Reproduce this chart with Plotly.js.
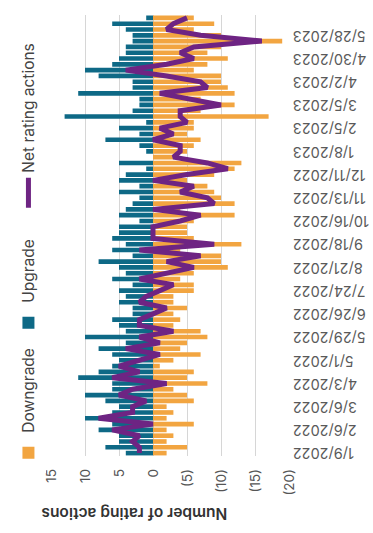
<!DOCTYPE html>
<html><head><meta charset="utf-8">
<script src="https://cdn.plot.ly/plotly-3.0.1.min.js"></script>
<style>
html,body{margin:0;padding:0;background:#fff;overflow:hidden;width:373px;height:533px;}
#wrap{position:absolute;left:0;top:0;width:533px;height:373px;transform-origin:0 0;transform:translateY(533px) rotate(-90deg);}
#chart{width:533px;height:373px;}
</style></head><body>
<div id="wrap"><div id="chart"></div></div>
<script>
const weeks = [
 "1/9/2022","1/16/2022","1/23/2022","1/30/2022","2/6/2022","2/13/2022","2/20/2022","2/27/2022",
 "3/6/2022","3/13/2022","3/20/2022","3/27/2022","4/3/2022","4/10/2022","4/17/2022","4/24/2022",
 "5/1/2022","5/8/2022","5/15/2022","5/22/2022","5/29/2022","6/5/2022","6/12/2022","6/19/2022",
 "6/26/2022","7/3/2022","7/10/2022","7/17/2022","7/24/2022","7/31/2022","8/7/2022","8/14/2022",
 "8/21/2022","8/28/2022","9/4/2022","9/11/2022","9/18/2022","9/25/2022","10/2/2022","10/9/2022",
 "10/16/2022","10/23/2022","10/30/2022","11/6/2022","11/13/2022","11/20/2022","11/27/2022","12/4/2022",
 "12/11/2022","12/18/2022","12/25/2022","1/1/2023","1/8/2023","1/15/2023","1/22/2023","1/29/2023",
 "2/5/2023","2/12/2023","2/19/2023","2/26/2023","3/5/2023","3/12/2023","3/19/2023","3/26/2023",
 "4/2/2023","4/9/2023","4/16/2023","4/23/2023","4/30/2023","5/7/2023","5/14/2023","5/21/2023",
 "5/28/2023","6/4/2023","6/11/2023","6/18/2023"
];
const upgrades = [
 4,7,5,5,8,6,10,6,5,7,10,6,
 6,11,8,6,5,6,8,4,10,4,5,6,3,
 3,5,4,5,3,6,4,5,8,3,6,4,6,
 5,5,2,5,4,3,2,5,2,5,4,1,5,
 0,1,2,7,2,5,1,13,3,2,2,11,3,
 3,8,10,6,5,4,4,3,3,4,6,1
];
const downgrades = [
 -2,-5,-2,-3,-2,-6,-2,-3,-2,-6,-5,-3,
 -8,-5,-6,-1,-3,-7,-4,-5,-8,-7,-3,-4,-3,
 -5,-3,-3,-6,-6,-4,-6,-11,-10,-10,-4,-13,-6,
 -5,-5,-6,-12,-4,-12,-10,-9,-8,-5,-9,-12,-13,
 -3,-5,-6,-7,-5,-6,-6,-17,-7,-12,-7,-12,-11,
 -10,-10,-6,-8,-11,-8,-10,-19,-10,-6,-9,-6
];
const netActions = [
 2,2,3,2,6,0,8,3,3,1,5,3,
 -2,6,2,5,2,-1,4,-1,2,-3,2,2,0,
 -2,2,1,-1,-3,2,-2,-6,-2,-7,2,-9,0,
 0,0,-4,-7,0,-9,-8,-4,-6,0,-5,-11,-8,
 -3,-4,-4,0,-3,-1,-5,-4,-4,-10,-5,-1,-8,
 -7,-2,4,-2,-6,-4,-6,-16,-7,-2,-3,-5
];
const xTickLabels = ["1/9/2022","2/6/2022","3/6/2022","4/3/2022","5/1/2022","5/29/2022","6/26/2022",
 "7/24/2022","8/21/2022","9/18/2022","10/16/2022","11/13/2022","12/11/2022","1/8/2023","2/5/2023",
 "3/5/2023","4/2/2023","4/30/2023","5/28/2023"];
const yTickVals = [-20,-15,-10,-5,0,5,10,15];
const yTickText = ["(20)","(15)","(10)","(5)","0","5","10","15"];

const FONT = "Inter, 'Noto Sans', Roboto, sans-serif";
const traces = [
 {type:'bar', name:'Downgrade', x:weeks, y:downgrades, marker:{color:'#F2A541'}, hoverinfo:'skip', legendwidth:85},
 {type:'bar', name:'Upgrade', x:weeks, y:upgrades, marker:{color:'#0E6986'}, hoverinfo:'skip', legendwidth:85},
 {type:'scatter', mode:'lines', name:'Net rating actions', x:weeks, y:netActions,
  line:{color:'#6E2483', width:5}, hoverinfo:'skip'}
];
const layout = {
 width:533, height:373,
 margin:{l:77, r:15, t:36, b:84, pad:0},
 barmode:'relative', bargap:0.2,
 paper_bgcolor:'#ffffff', plot_bgcolor:'#ffffff',
 font:{family:FONT, color:'#555555', size:13},
 showlegend:true,
 legend:{orientation:'h', x:-0.038, xanchor:'left', y:1.093, yanchor:'middle',
   font:{size:15.5, color:'#444444'}, traceorder:'normal', itemwidth:30, tracegroupgap:0},
 xaxis:{type:'category', categoryorder:'array', categoryarray:weeks, tickmode:'array',
   tickvals:xTickLabels, ticktext:xTickLabels, tickangle:-90, showgrid:false, zeroline:false,
   showline:false, ticks:'', tickfont:{size:14.5, color:'#5a5a5a'}, fixedrange:true},
 yaxis:{range:[-20,15], tickmode:'array', tickvals:yTickVals, ticktext:yTickText,
   showgrid:true, gridcolor:'#d6d6d6', gridwidth:1, zeroline:false, showline:false,
   ticks:'', ticklabelstandoff:12, tickfont:{size:13.5, color:'#555555'}, fixedrange:true},
 annotations:[{text:'Number of rating actions', xref:'paper', yref:'paper',
   x:-0.1315, y:0.65, xanchor:'center', yanchor:'middle', textangle:-90, showarrow:false,
   font:{size:15.5, color:'#333333', family:FONT, weight:600}}]
};
Plotly.newPlot('chart', traces, layout, {displayModeBar:false, staticPlot:true});
</script>
</body></html>
